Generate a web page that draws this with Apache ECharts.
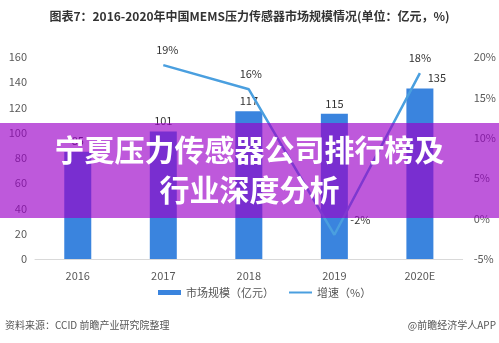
<!DOCTYPE html>
<html>
<head>
<meta charset="utf-8">
<script src="https://cdn.jsdelivr.net/npm/echarts@6/dist/echarts.min.js"></script>
<style>
  html, body { margin: 0; padding: 0; background: #fff; }
  #chart { width: 499px; height: 343px; }
</style>
</head>
<body>
<div id="chart"></div>
<script>
// MEMS pressure sensor market in China, 2016-2020E
const years = ['2016', '2017', '2018', '2019', '2020E'];
const marketSize = [85, 101, 117, 115, 135];        // 亿元
const growthRate = [null, 19, 16, -2, 18];            // %
const leftTicks = { min: 0, max: 160, step: 20 };
const rightTicks = { min: -5, max: 20, step: 5 };

const FONT = '"Noto Sans CJK SC", "Noto Sans", sans-serif';

const chart = echarts.init(document.getElementById('chart'), null, { renderer: 'canvas' });

// label placement for each growth point
const growthLabelOffsets = [null, [4, -2], [2, -2], [26, -1], [0, -2]];

chart.setOption({
  animation: false,
  backgroundColor: '#ffffff',
  textStyle: { fontFamily: FONT },
  title: {
    text: '图表7：2016-2020年中国MEMS压力传感器市场规模情况(单位：亿元，%)',
    left: 'center',
    top: 5,
    textStyle: { fontSize: 12, fontWeight: 'bold', color: '#333333', fontFamily: FONT }
  },
  grid: { left: 35, right: 33, top: 57, bottom: 84, containLabel: false },
  legend: {
    bottom: 40,
    left: 153,
    itemGap: 14,
    itemWidth: 23,
    itemHeight: 5,
    textStyle: { fontSize: 11, color: '#555555', fontFamily: FONT },
    data: [
      { name: '市场规模（亿元）', icon: 'rect' },
      { name: '增速（%）', itemStyle: { opacity: 0 } }
    ]
  },
  xAxis: {
    type: 'category',
    data: years,
    axisLine: { lineStyle: { color: '#d9d9d9' } },
    axisTick: { show: false },
    axisLabel: { color: '#595959', fontSize: 11, margin: 11 }
  },
  yAxis: [
    {
      type: 'value',
      min: leftTicks.min, max: leftTicks.max, interval: leftTicks.step,
      splitLine: { show: false },
      axisLine: { show: false },
      axisTick: { show: false },
      axisLabel: { color: '#595959', fontSize: 11, margin: 8 }
    },
    {
      type: 'value',
      min: rightTicks.min, max: rightTicks.max, interval: rightTicks.step,
      splitLine: { show: false },
      axisLine: { show: false },
      axisTick: { show: false },
      axisLabel: { color: '#595959', fontSize: 11, margin: 11, formatter: '{value}%' }
    }
  ],
  series: [
    {
      name: '市场规模（亿元）',
      type: 'bar',
      data: marketSize.map((v, i) => ({
        value: v,
        label: i === marketSize.length - 1 ? { offset: [17, 0] } : {}
      })),
      barWidth: 27,
      itemStyle: { color: '#3a84de' },
      label: { show: true, position: 'top', color: '#333333', fontSize: 11, distance: 5 }
    },
    {
      name: '增速（%）',
      type: 'line',
      yAxisIndex: 1,
      data: growthRate.map((v, i) => ({
        value: v,
        label: growthLabelOffsets[i] ? { offset: growthLabelOffsets[i] } : {}
      })),
      symbol: 'circle',
      symbolSize: 0,
      showSymbol: true,
      connectNulls: false,
      lineStyle: { color: '#4a9fdf', width: 2.5 },
      itemStyle: { color: '#4a9fdf' },
      label: {
        show: true,
        position: 'top',
        color: '#333333',
        fontSize: 11,
        distance: 8,
        formatter: p => p.value == null ? '' : p.value + '%'
      }
    }
  ],
  graphic: [
    // headline banner across the middle
    {
      type: 'rect',
      left: 0, top: 123,
      shape: { width: 499, height: 95 },
      style: { fill: 'rgba(155, 0, 200, 0.65)' },
      z: 100
    },
    {
      type: 'text',
      left: 'center', top: 135,
      style: {
        text: '宁夏压力传感器公司排行榜及',
        fill: '#ffffff',
        font: 'bold 30px "Noto Sans CJK SC", sans-serif'
      },
      z: 101
    },
    {
      type: 'text',
      left: 'center', top: 175,
      style: {
        text: '行业深度分析',
        fill: '#ffffff',
        font: 'bold 30px "Noto Sans CJK SC", sans-serif'
      },
      z: 101
    },
    // source footer
    {
      type: 'text',
      left: 5, top: 320,
      style: { text: '资料来源：CCID 前瞻产业研究院整理', fill: '#555555', font: '10px "Noto Sans CJK SC", sans-serif' }
    },
    {
      type: 'text',
      right: 3, top: 320,
      style: { text: '@前瞻经济学人APP', fill: '#555555', font: '10px "Noto Sans CJK SC", sans-serif' }
    }
  ]
});
</script>
</body>
</html>
